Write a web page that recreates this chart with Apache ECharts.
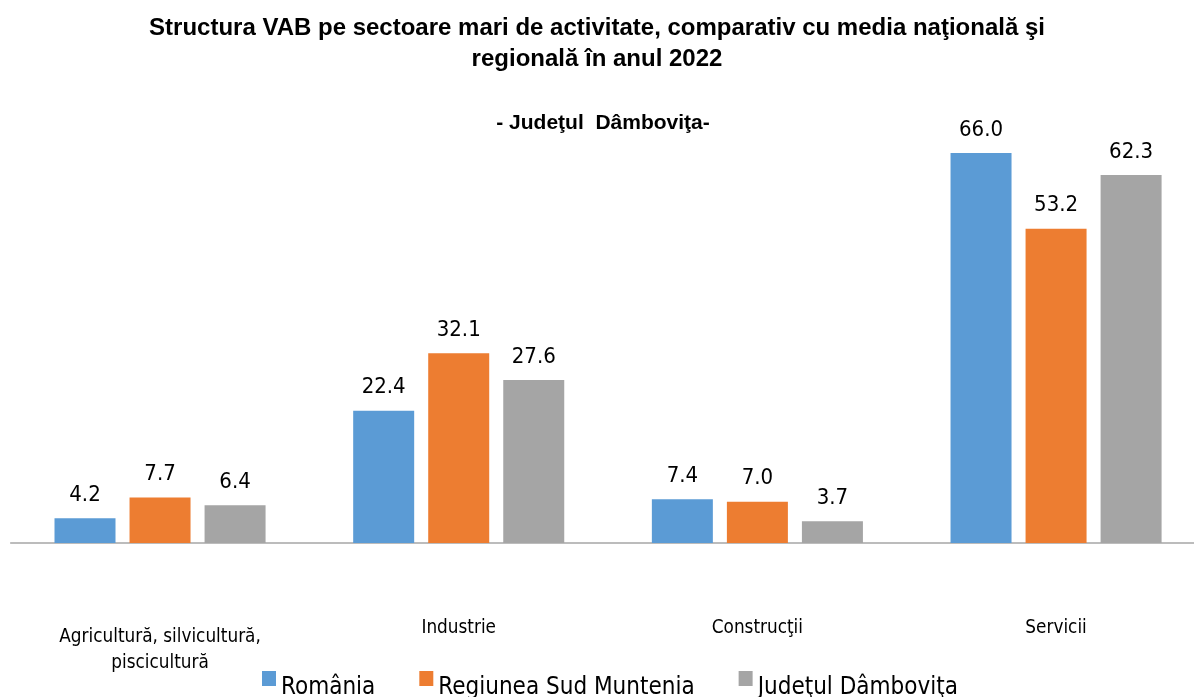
<!DOCTYPE html>
<html>
<head>
<meta charset="utf-8">
<script src="https://cdn.jsdelivr.net/npm/echarts@6/dist/echarts.min.js"></script>
<style>
html, body { margin: 0; padding: 0; background: #fff; }
#chart { width: 1194px; height: 697px; }
</style>
</head>
<body>
<div id="chart"></div>
<script>
var categories = ['Agricultură, silvicultură,\npiscicultură', 'Industrie', 'Construcţii', 'Servicii'];
var seriesNames = ['România', 'Regiunea Sud Muntenia', 'Judeţul Dâmboviţa'];
var romania = [4.2, 22.4, 7.4, 66.0];
var regiunea = [7.7, 32.1, 7.0, 53.2];
var judetul = [6.4, 27.6, 3.7, 62.3];
var colors = ['#5B9BD5', '#ED7D31', '#A5A5A5'];

var font = 'DejaVu Sans Condensed, Open Sans, sans-serif';

function makeSeries(name, data, color) {
	return {
		name: name,
		type: 'bar',
		data: data,
		barWidth: 61,
		barGap: '23%',
		itemStyle: { color: color },
		label: {
			show: true,
			position: 'top',
			distance: 12,
			formatter: p => p.value.toFixed(1),
			fontFamily: font,
			fontSize: 22,
			color: '#000'
		}
	};
}

var chart = echarts.init(document.getElementById('chart'));
chart.setOption({
	animation: false,
	title: [
		{
			text: 'Structura VAB pe sectoare mari de activitate, comparativ cu media naţională şi\nregională în anul 2022',
			left: 'center',
			top: 8,
			textStyle: { fontFamily: 'Liberation Sans, Arial, sans-serif', fontWeight: 'bold', fontSize: 24, lineHeight: 31, color: '#000' }
		},
		{
			text: '- Judeţul  Dâmboviţa-',
			left: 598,
			top: 108,
			textAlign: 'center',
			textStyle: { fontFamily: 'Liberation Sans, Arial, sans-serif', fontWeight: 'bold', fontSize: 21, color: '#000' }
		}
	],
	legend: {
		bottom: -8,
		left: 257,
		itemWidth: 14,
		itemHeight: 15,
		itemGap: 44,
		icon: 'rect',
		data: seriesNames,
		formatter: n => '{a|' + n + '}',
		textStyle: {
			rich: { a: { fontFamily: font, fontSize: 24, color: '#000', padding: [19, 0, 0, 0] } }
		}
	},
	grid: { left: 10.7, width: 1194.7, top: 129.4, bottom: 154, containLabel: false, outerBoundsMode: 'none' },
	xAxis: {
		type: 'category',
		data: [
			{ value: categories[0], textStyle: { padding: [9, 0, 0, 0] } },
			categories[1], categories[2], categories[3]
		],
		axisTick: { show: false },
		axisLine: { lineStyle: { color: '#A6A6A6', width: 1.5 } },
		axisLabel: { margin: 72, fontFamily: font, fontSize: 18.8, lineHeight: 26, color: '#000', interval: 0 }
	},
	yAxis: {
		type: 'value',
		min: 0,
		max: 70,
		show: false,
		splitLine: { show: false }
	},
	series: [
		makeSeries(seriesNames[0], romania, colors[0]),
		makeSeries(seriesNames[1], regiunea, colors[1]),
		makeSeries(seriesNames[2], judetul, colors[2])
	]
});
</script>
</body>
</html>
